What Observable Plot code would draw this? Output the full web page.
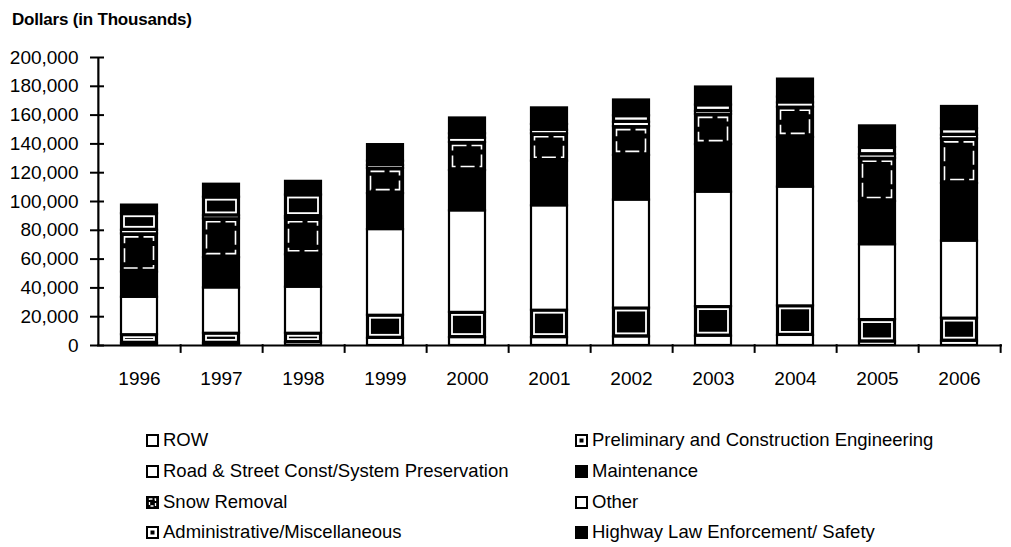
<!DOCTYPE html>
<html><head><meta charset="utf-8">
<script src="https://cdn.jsdelivr.net/npm/d3@7"></script>
<script src="https://cdn.jsdelivr.net/npm/@observablehq/plot@0.6"></script>
<style>
body{margin:0;background:#fff;font-family:"Liberation Sans",Arial,Helvetica,sans-serif;color:#000}
#wrap{position:relative;width:1011px;height:547px;overflow:hidden;background:#fff}
#title{position:absolute;left:12px;top:10px;font-weight:bold;font-size:17px;letter-spacing:-0.2px}
#chart{position:absolute;left:0;top:35px}
.item{position:absolute;font-size:18.5px;line-height:22px;height:22px;display:flex;align-items:center;white-space:nowrap}
.item svg{margin-right:4px;flex:none}
</style></head><body>
<div id="wrap"><div id="title">Dollars (in Thousands)</div><div id="chart"></div><div id="legend"></div></div>
<script>
const years = ["1996","1997","1998","1999","2000","2001","2002","2003","2004","2005","2006"];
const seriesNames = ["ROW","Preliminary and Construction Engineering","Road & Street Const/System Preservation","Maintenance","Snow Removal","Other","Administrative/Miscellaneous","Highway Law Enforcement/ Safety"];
const yTicks = [0,20000,40000,60000,80000,100000,120000,140000,160000,180000,200000];

// values in thousands of dollars
const row         = [1500,1500,2000,5000,5500,5500,6000,6500,7000,2500,3000];
const prelim      = [6000,7000,6500,16000,17500,19000,20000,20500,20500,15500,16000];
const road        = [26000,31500,32000,59500,70500,72500,75000,79500,82500,52000,53500];
const maintenance = [17500,21000,22500,25000,28000,31000,31000,33000,34500,30000,40000];
const snow        = [26500,27000,25000,17500,19500,19000,20000,21000,21000,30000,31000];
const other       = [2500,2000,1500,2000,3000,2500,3000,2000,3000,2500,2500];
const admin       = [11500,13000,15000,3000,3000,4000,4500,4500,4000,5000,4500];
const highway     = [6000,9000,9500,11500,11000,11500,11000,12500,12500,15000,15500];

const seriesValues = [row, prelim, road, maintenance, snow, other, admin, highway];
const baseFill = ["white","black","white","black","black","white","black","black"];
const kind = ["plain","boxed","plain","plain","dashed","plain","boxed","plain"];

const table = [];
seriesNames.forEach((s, si) => years.forEach((y, yi) => table.push({year: y, series: s, value: seriesValues[si][yi], fill: baseFill[si], kind: kind[si]})));

const W = 1011, ML = 97, MR = 9;
const step = (W - ML - MR) / years.length;

const chart = Plot.plot({
  width: W, height: 365,
  marginLeft: ML, marginRight: MR, marginTop: 22, marginBottom: 55,
  x: {type: "band", domain: years, paddingInner: 0.56, paddingOuter: 0.28, axis: null, label: null},
  y: {domain: [0, 200000], axis: null, label: null},
  color: {type: "identity"},
  style: {fontFamily: '"Liberation Sans", Arial, sans-serif', fontSize: "19px", color: "black", background: "white"},
  marks: [
    Plot.barY(table, Plot.stackY({x: "year", y: "value", fill: "fill", stroke: "black", strokeWidth: 2.2})),
    Plot.barY(table, Plot.stackY({x: "year", y: "value", fill: "none", stroke: d => d.kind === "boxed" ? "white" : "none", strokeWidth: 1.8, inset: 3})),
    Plot.barY(table, Plot.stackY({x: "year", y: "value", fill: "none", stroke: d => d.kind === "dashed" ? "white" : "none", strokeWidth: 1.6, inset: 3.5, strokeDasharray: "14,5"})),
    Plot.ruleY([0], {stroke: "black", strokeWidth: 2.2}),
    Plot.ruleX([years[0]], {x: d => d, dx: -step / 2, y1: 0, y2: 200000, stroke: "black", strokeWidth: 2.2}),
    Plot.ruleX(years, {x: d => d, dx: step / 2, y1: -5500, y2: 600, stroke: "black", strokeWidth: 2}),
    Plot.axisY({ticks: yTicks, tickSize: 7, tickPadding: 12, tickFormat: d3.format(","), fontSize: 19, strokeWidth: 2, label: null}),
    Plot.axisY({ticks: yTicks, tickSize: 7, dx: 7, tickFormat: () => "", strokeWidth: 2, label: null}),
    Plot.axisX({tickSize: 0, tickPadding: 26, fontSize: 19, label: null})
  ]
});
document.getElementById("chart").appendChild(chart);

// legend (Excel-style two columns, row-wise)
function swatch(i) {
  const k = kind[i], f = baseFill[i];
  let inner = "";
  if (k === "boxed") {
    inner = '<rect x="1" y="1" width="11" height="11" fill="white" stroke="black" stroke-width="2"/><rect x="4.5" y="4.5" width="4" height="4" fill="black"/>';
  } else if (k === "dashed") {
    inner = '<rect x="0" y="0" width="13" height="13" fill="black"/><rect x="3.5" y="3" width="6" height="7" fill="none" stroke="white" stroke-width="1.3" stroke-dasharray="3,2"/>';
  } else if (f === "black") {
    inner = '<rect x="0" y="0" width="13" height="13" fill="black"/>';
  } else {
    inner = '<rect x="1" y="1" width="11" height="11" fill="white" stroke="black" stroke-width="2"/>';
  }
  return '<svg width="13" height="13" viewBox="0 0 13 13">' + inner + '</svg>';
}
const legend = document.getElementById("legend");
const rowY = [440, 471, 502, 532];
seriesNames.forEach((s, i) => {
  const col = i % 2, r = Math.floor(i / 2);
  const div = document.createElement("div");
  div.className = "item";
  div.style.left = (col === 0 ? 146 : 575) + "px";
  div.style.top = (rowY[r] - 11) + "px";
  div.innerHTML = swatch(i) + '<span></span>';
  div.querySelector("span").textContent = s;
  legend.appendChild(div);
});
</script>
</body></html>
